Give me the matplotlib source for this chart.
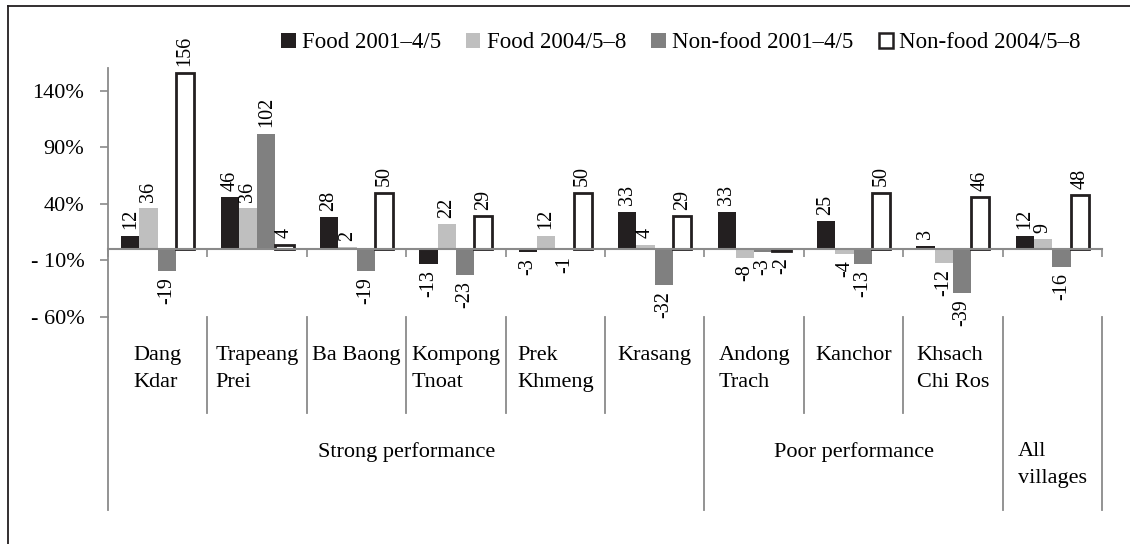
import matplotlib
matplotlib.use("Agg")
import matplotlib.pyplot as plt
import matplotlib.transforms as mtransforms
from matplotlib.patches import Patch
from matplotlib.lines import Line2D
import numpy as np

# ---------------- data ----------------
categories = ["Dang\nKdar", "Trapeang\nPrei", "Ba Baong", "Kompong\nTnoat", "Prek\nKhmeng",
              "Krasang", "Andong\nTrach", "Kanchor", "Khsach\nChi Ros", ""]
groups = ["Strong performance", "Poor performance", "All\nvillages"]
group_sizes = [6, 3, 1]
series_names = ["Food 2001\u20134/5", "Food 2004/5\u20138", "Non-food 2001\u20134/5", "Non-food 2004/5\u20138"]
food_01 = [12, 46, 28, -13, -3, 33, 33, 25, 3, 12]
food_04 = [36, 36, 2, 22, 12, 4, -8, -4, -12, 9]
nonfood_01 = [-19, 102, -19, -23, -1, -32, -3, -13, -39, -16]
nonfood_04 = [156, 4, 50, 29, 50, 29, -2, 50, 46, 48]
y_ticks = [-60, -10, 40, 90, 140]
y_tick_labels = ["- 60%", "- 10%", "40%", "90%", "140%"]

# ---------------- style ----------------
plt.rcParams['font.family'] = ['Liberation Serif', 'DejaVu Serif']
W, H = 1130, 544
fig = plt.figure(figsize=(W / 100, H / 100), dpi=100)
ax_left, ax_right = 108, 1102
ax_top, ax_bot = 68, 317
ax = fig.add_axes([ax_left / W, (H - ax_bot) / H, (ax_right - ax_left) / W, (ax_bot - ax_top) / H])

gray = '#8a8a8a'
fills = ['#231f20', '#bfbfbf', '#808080', 'white']
edges = ['none', 'none', 'none', '#231f20']
lws = [0, 0, 0, 2.0]
series = [food_01, food_04, nonfood_01, nonfood_04]

n = len(categories)
x = np.arange(n)
w = 0.184
offs = (np.arange(4) - 1.5) * w

for s, vals in enumerate(series):
    ax.bar(x + offs[s], vals, width=w, color=fills[s], edgecolor=edges[s],
           linewidth=lws[s], zorder=3 if s < 3 else 4)
    for xi, v in zip(x + offs[s], vals):
        ax.annotate(f"{v}", (xi, v), xytext=(0, 4.5 if v >= 0 else -4.5),
                    textcoords='offset points', rotation=90, ha='center',
                    va='bottom' if v >= 0 else 'top', fontsize=14.5, zorder=6)

ax.set_xlim(-0.5, n - 0.5)
ax.set_ylim(-60, 160)
ax.set_yticks(y_ticks)
ax.set_yticklabels(y_tick_labels, fontsize=16)
ax.tick_params(axis='y', direction='out', length=6, width=1.2, color=gray, pad=11)

for sp in ['top', 'right']:
    ax.spines[sp].set_visible(False)
ax.spines['left'].set_color(gray)
ax.spines['left'].set_linewidth(1.3)
ax.spines['bottom'].set_position(('data', 0))
ax.spines['bottom'].set_color(gray)
ax.spines['bottom'].set_linewidth(1.5)
ax.spines['bottom'].set_zorder(5)
ax.set_xticks(np.arange(n + 1) - 0.5)
ax.set_xticklabels([])
ax.tick_params(axis='x', direction='out', length=6, width=1.2, color=gray)

# category and group label area
tr = mtransforms.blended_transform_factory(ax.transData, fig.transFigure)
def fy(px):
    return (H - px) / H

boundaries = np.arange(n + 1) - 0.5
group_edges = np.concatenate([[0], np.cumsum(group_sizes)]) - 0.5
for b in boundaries:
    bottom = 510 if np.any(np.isclose(group_edges, b)) else 413
    fig.add_artist(Line2D([b, b], [fy(ax_bot), fy(bottom)], transform=tr, color=gray, lw=1.3))

for xi, lab in zip(x, categories):
    fig.text(xi, fy(346), lab, transform=tr, ha='center', va='top', multialignment='left',
             fontsize=16, linespacing=1.6)

for g, (lab, start) in enumerate(zip(groups, group_edges[:-1])):
    center = start + group_sizes[g] / 2
    fig.text(center, fy(442), lab, transform=tr, ha='center', va='top', multialignment='left',
             fontsize=16, linespacing=1.6)

# legend
handles = [Patch(facecolor=fills[i], edgecolor=('#231f20' if i == 3 else fills[i]),
                 linewidth=(1.8 if i == 3 else 0)) for i in range(4)]
fig.legend(handles, series_names, loc='center', bbox_to_anchor=(681 / W, fy(43)), ncol=4,
           frameon=False, fontsize=16.5, handlelength=0.62, handleheight=0.62,
           handletextpad=0.28, columnspacing=1.1, borderaxespad=0, borderpad=0)

# outer border (top and left visible)
fig.add_artist(Line2D([8 / W, 1.0], [fy(6), fy(6)], transform=fig.transFigure, color='#231f20', lw=1.3))
fig.add_artist(Line2D([8 / W, 8 / W], [fy(6), 0], transform=fig.transFigure, color='#231f20', lw=1.3))

fig.savefig("out.png", dpi=100)
